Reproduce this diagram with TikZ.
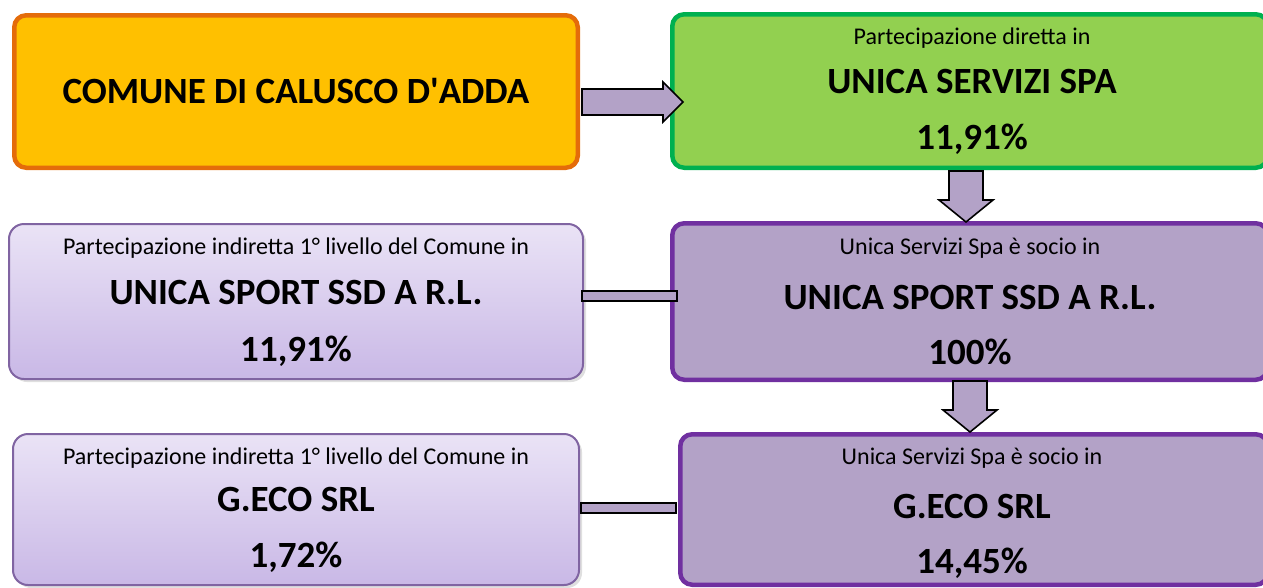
\documentclass[tikz,border=0pt]{standalone}
\usepackage{fontspec}
\setmainfont{Carlito}
\usepackage{tikz}
\usetikzlibrary{calc,shadows}

\definecolor{orangefill}{HTML}{FFC000}
\definecolor{orangeline}{HTML}{E46C0A}
\definecolor{greenfill}{HTML}{92D050}
\definecolor{greenline}{HTML}{00B050}
\definecolor{lilac}{HTML}{B3A2C7}
\definecolor{purpleline}{HTML}{7030A0}
\definecolor{lilacline}{HTML}{8064A2}
\definecolor{lilactop}{HTML}{EAE3F6}
\definecolor{lilacbottom}{HTML}{C9B8E6}

\tikzset{
  bigtext/.style={font=\fontsize{37}{40}\selectfont\bfseries, anchor=base},
  smalltext/.style={font=\fontsize{24}{28}\selectfont, anchor=base},
  topbox/.style={rectangle, rounded corners=12pt, line width=4.5pt},
  indbox/.style={rectangle, rounded corners=15pt, line width=2pt, draw=lilacline,
    top color=lilactop, bottom color=lilacbottom,
    drop shadow={shadow xshift=3pt, shadow yshift=-3pt, opacity=0.25}},
  arrowfill/.style={fill=lilac, draw=black, line width=1.6pt, line join=miter},
}

\begin{document}
\begin{tikzpicture}[x=1pt, y=-1pt]
	\useasboundingbox (0,0) rectangle (1263,587);

	% Macro for a downward block arrow.
	% Usage: \downblock{start}{tip}
	\newcommand{\downblock}[2]{
		\draw[arrowfill] ($(#1)+(-17,0)$) -- ($(#2)+(-17,-22)$) -- ($(#2)+(-27,-22)$) -- (#2)
			-- ($(#2)+(27,-22)$) -- ($(#2)+(17,-22)$) -- ($(#1)+(17,0)$) -- cycle;
	}

	% Boxes of the Comune and of the direct holding
	\node[topbox, draw=orangeline, fill=orangefill, minimum width=563.5pt, minimum height=152.5pt,
		font=\fontsize{37}{40}\selectfont\bfseries] (comune) at (296,91.5) {COMUNE DI CALUSCO D\textquotesingle ADDA};
	\node[topbox, draw=greenline, fill=greenfill, minimum width=595.5pt, minimum height=153.5pt] (diretta) at (970,91) {};
	\node[smalltext] (dirlab) at (972,44.7) {Partecipazione diretta in};
	\node[bigtext] (dirname) at (972,93.7) {UNICA SERVIZI SPA};
	\node[bigtext] (dirpct) at (972,149.7) {11,91\%};

	% Holdings of Unica Servizi Spa
	\node[topbox, draw=purpleline, fill=lilac, minimum width=595.5pt, minimum height=156.5pt] (sportdir) at (970,301.5) {};
	\node[smalltext] (sportdirlab) at (970,254.7) {Unica Servizi Spa è socio in};
	\node[bigtext] (sportdirname) at (970,309.7) {UNICA SPORT SSD A R.L.};
	\node[bigtext] (sportdirpct) at (970,364.7) {100\%};

	\node[topbox, draw=purpleline, fill=lilac, minimum width=587.5pt, minimum height=150.5pt] (gecodir) at (974,509.5) {};
	\node[smalltext] (gecodirlab) at (972,464.7) {Unica Servizi Spa è socio in};
	\node[bigtext] (gecodirname) at (972,518.7) {G.ECO SRL};
	\node[bigtext] (gecodirpct) at (972,573.7) {14,45\%};

	% Indirect holdings of the Comune
	\node[indbox, minimum width=574pt, minimum height=155pt] (sportind) at (296,301.5) {};
	\node[smalltext] (sportindlab) at (296,254.7) {Partecipazione indiretta 1° livello del Comune in};
	\node[bigtext] (sportindname) at (296,304.7) {UNICA SPORT SSD A R.L.};
	\node[bigtext] (sportindpct) at (296,361.7) {11,91\%};

	\node[indbox, minimum width=566pt, minimum height=151pt] (gecoind) at (296,509.5) {};
	\node[smalltext] (gecoindlab) at (296,464.7) {Partecipazione indiretta 1° livello del Comune in};
	\node[bigtext] (gecoindname) at (296,511.7) {G.ECO SRL};
	\node[bigtext] (gecoindpct) at (296,567.7) {1,72\%};

	% Arrows
	\draw[arrowfill] ($(comune.east)+(2,-2.5)$) -- ($(diretta.west)+(-7,-2)$) -- ($(diretta.west)+(-7,-9)$)
		-- ($(diretta.west)+(13,11)$) -- ($(diretta.west)+(-7,31)$) -- ($(diretta.west)+(-7,24)$)
		-- ($(comune.east)+(2,23.5)$) -- cycle;
	\downblock{$(diretta.south)+(-4,1)$}{$(sportdir.north)+(-4,1)$}
	\downblock{$(sportdir.south)+(0,-1)$}{$(gecodir.north)+(-4,0)$}

	% Links between indirect and direct holdings
	\draw[arrowfill] ($(sportind.east)+(-2,-10.5)$) rectangle ($(sportdir.west)+(7,-0.5)$);
	\draw[arrowfill] ($(gecoind.east)+(1,-6.5)$) rectangle ($(gecodir.west)+(-2,3.5)$);
\end{tikzpicture}
\end{document}
